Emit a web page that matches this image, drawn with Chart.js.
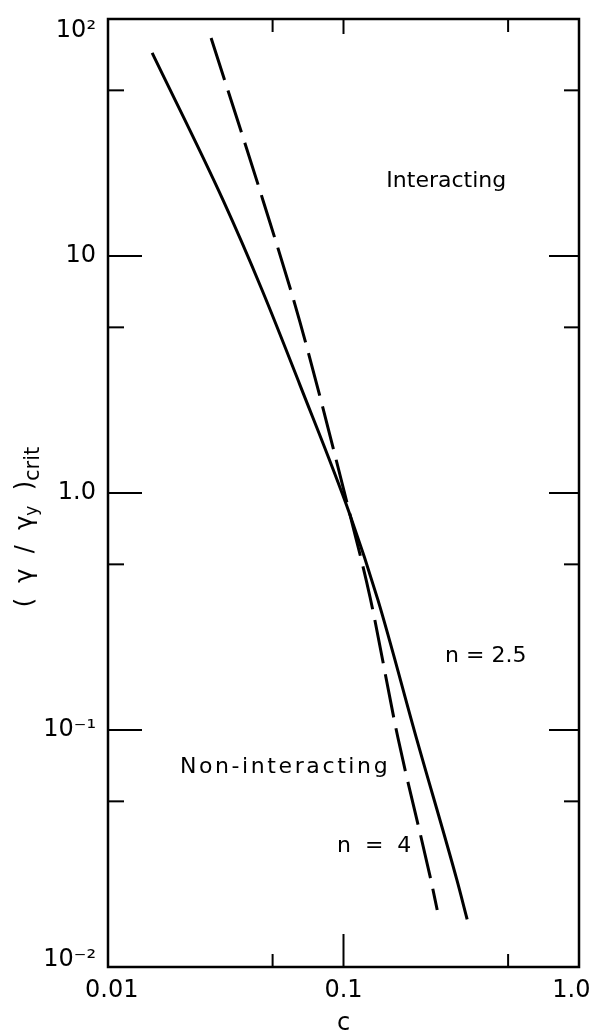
<!DOCTYPE html>
<html>
<head>
<meta charset="utf-8">
<script src="https://cdn.jsdelivr.net/npm/chart.js@4/dist/chart.umd.min.js"></script>
<style>
  html, body { margin: 0; padding: 0; background: #fff; }
  #chart { display: block; }
</style>
</head>
<body>
<canvas id="chart" width="595" height="1036"></canvas>
<script>
const FONT = "'DejaVu Sans', sans-serif"

// n = 2.5, solid curve
const solidC = [0.0154, 0.0308, 0.0451, 0.0653, 0.1066, 0.140, 0.205, 0.303, 0.335]
const solidV = [71.9, 17.2, 7.19, 2.86, 0.808, 0.354, 0.0908, 0.0233, 0.0159]

// n = 4, dashed curve
const dashC = [0.0274, 0.0455, 0.0653, 0.1066, 0.1296, 0.170, 0.235, 0.250]
const dashV = [83.1, 17.2, 5.27, 0.808, 0.364, 0.0934, 0.0233, 0.0174]

const xTicks = [0.01, 0.1, 1]
const xTickLabels = ["0.01", "0.1", "1.0"]
const yTicks = [0.01, 0.1, 1, 10, 100]
const yTickLabels = ["10⁻²", "10⁻¹", "1.0", "10", "10²"]
const xMinor = [0.05, 0.5]
const yMinor = [0.05, 0.5, 5, 50]

const notes = [
  {text: "Interacting", c: 0.152, v: 20.7, spacing: 0},
  {text: "Non-interacting", c: 0.0202, v: 0.0698, spacing: 2.6},
  {text: "n = 2.5", c: 0.27, v: 0.205, spacing: 0},
  {text: "n  =  4", c: 0.0938, v: 0.0324, spacing: 0},
]

const toPoints = (xs, ys) => xs.map((x, i) => ({x: x, y: ys[i]}))

// frame, inward tick marks, notes and the y title
const decorations = {
  id: "decorations",
  afterDraw(chart) {
    const {ctx, chartArea: a, scales: {x, y}} = chart
    ctx.save()
    ctx.strokeStyle = "#000"
    ctx.lineWidth = 2.5
    ctx.strokeRect(a.left, a.top, a.right - a.left, a.bottom - a.top)

    ctx.lineWidth = 2
    const tick = (x1, y1, x2, y2) => {
      ctx.beginPath(); ctx.moveTo(x1, y1); ctx.lineTo(x2, y2); ctx.stroke()
    }
    xTicks.slice(1, -1).forEach(v => {
      const px = x.getPixelForValue(v)
      tick(px, a.bottom, px, a.bottom - 33)
      tick(px, a.top, px, a.top + 15)
    })
    xMinor.forEach(v => {
      const px = x.getPixelForValue(v)
      tick(px, a.bottom, px, a.bottom - 13)
      tick(px, a.top, px, a.top + 13)
    })
    yTicks.slice(1, -1).forEach(v => {
      const py = y.getPixelForValue(v)
      tick(a.left, py, a.left + 34, py)
      tick(a.right, py, a.right - 30, py)
    })
    yMinor.forEach(v => {
      const py = y.getPixelForValue(v)
      tick(a.left, py, a.left + 16, py)
      tick(a.right, py, a.right - 15, py)
    })

    ctx.fillStyle = "#000"
    ctx.font = "22px " + FONT
    ctx.textAlign = "left"
    ctx.textBaseline = "middle"
    notes.forEach(n => {
      ctx.letterSpacing = n.spacing + "px"
      ctx.fillText(n.text, x.getPixelForValue(n.c), y.getPixelForValue(n.v))
    })
    ctx.letterSpacing = "0px"

    // y title: ( γ / γ_y )_crit, rotated
    ctx.translate(24, 527)
    ctx.rotate(-Math.PI / 2)
    ctx.textBaseline = "alphabetic"
    const parts = [
      {t: "(  γ  /  γ", size: 24, dy: 0},
      {t: "y", size: 17, dy: 5},
      {t: "  )", size: 24, dy: 0},
      {t: "crit", size: 21, dy: 7},
    ]
    let w = 0
    parts.forEach(p => { ctx.font = p.size + "px " + FONT; p.w = ctx.measureText(p.t).width; w += p.w })
    let cx = -w / 2
    parts.forEach(p => {
      ctx.font = p.size + "px " + FONT
      ctx.fillText(p.t, cx, 8 + p.dy)
      cx += p.w
    })
    ctx.restore()
  }
}

const chart = new Chart("chart", {
  type: "line",
  data: {
    datasets: [
      {
        data: toPoints(solidC, solidV),
        borderColor: "#000",
        borderWidth: 3,
        pointRadius: 0,
        cubicInterpolationMode: "monotone",
      },
      {
        data: toPoints(dashC, dashV),
        borderColor: "#000",
        borderWidth: 3,
        borderDash: [44, 11],
        pointRadius: 0,
        cubicInterpolationMode: "monotone",
      }
    ]
  },
  options: {
    responsive: false,
    animation: false,
    layout: {padding: {top: 19, right: 16, left: 0, bottom: 0}},
    plugins: {
      legend: {display: false},
      tooltip: {enabled: false},
    },
    scales: {
      x: {
        type: "logarithmic",
        min: 0.01,
        max: 1,
        grid: {display: false, drawTicks: false},
        border: {display: false},
        afterBuildTicks: s => { s.ticks = xTicks.map(v => ({value: v})) },
        afterFit: s => { s.height = 69; s.paddingLeft = 0; s.paddingRight = 0 },
        ticks: {
          color: "#000",
          font: {family: FONT, size: 24},
          padding: 9,
          maxRotation: 0,
          // nudge the end labels inward like the original lettering
          callback: (value, i) => i === 0 ? " " + xTickLabels[i]
            : i === xTicks.length - 1 ? xTickLabels[i] + "  " : xTickLabels[i],
        },
        title: {
          display: true,
          text: "c",
          color: "#000",
          font: {family: FONT, size: 24, lineHeight: 1},
          padding: {top: 0, bottom: 0},
        }
      },
      y: {
        type: "logarithmic",
        min: 0.01,
        max: 100,
        grid: {display: false, drawTicks: false},
        border: {display: false},
        afterBuildTicks: s => { s.ticks = yTicks.map(v => ({value: v})) },
        afterFit: s => { s.width = 108; s.paddingTop = 0; s.paddingBottom = 0 },
        ticks: {
          color: "#000",
          padding: 12,
          // end labels sit inside the frame: push them via an empty line
          font: c => ({family: FONT, size: 24,
            lineHeight: c.index === 0 ? "14px" : c.index === yTicks.length - 1 ? "24px" : 1.2}),
          callback: (value, i) => i === 0 ? [yTickLabels[i], ""]
            : i === yTicks.length - 1 ? ["", yTickLabels[i]] : yTickLabels[i],
        }
      }
    },
  },
  plugins: [decorations]
})
</script>
</body>
</html>
